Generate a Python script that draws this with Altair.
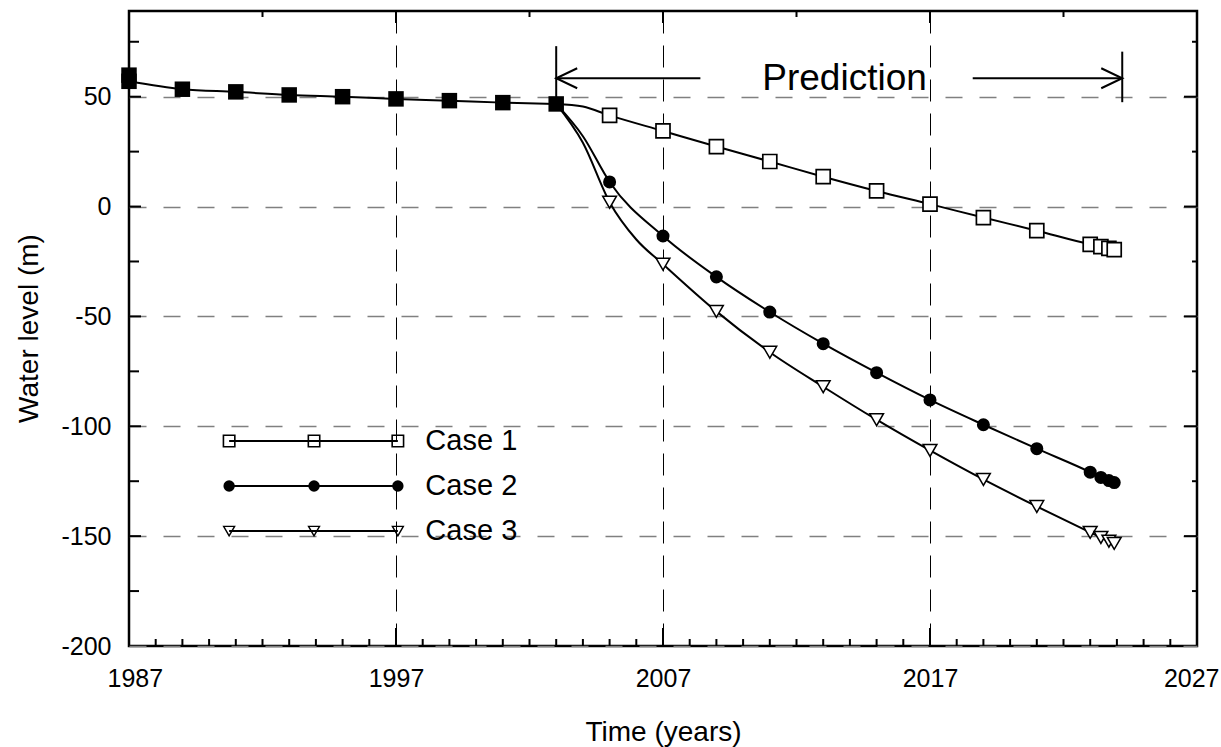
import altair as alt
import pandas as pd

FONT = "Liberation Sans"
X_DOMAIN = [1987, 2027]
Y_DOMAIN = [-200, 89]

# Measured water level before the prediction period (common to all cases)
hist_years = [1987, 1989, 1991, 1993, 1995, 1997, 1999, 2001, 2003]
hist_level = [57.0, 53.4, 52.2, 50.8, 50.0, 49.0, 48.2, 47.3, 46.7]
first_year_second_reading = 59.8

# Predicted water level, one series per case
case1_years = [2003, 2004, 2005, 2007, 2009, 2011, 2013, 2015, 2017, 2019, 2021, 2023, 2023.4, 2023.7, 2023.9]
case1_level = [46.7, 45.5, 41.5, 34.4, 27.3, 20.5, 13.6, 7.1, 1.1, -5.0, -11.0, -17.2, -18.2, -19.0, -19.6]

case2_years = [2003, 2004, 2005, 2007, 2009, 2011, 2013, 2015, 2017, 2019, 2021, 2023, 2023.4, 2023.7, 2023.9]
case2_level = [46.7, 32.0, 11.2, -13.4, -32.0, -48.0, -62.4, -75.6, -88.0, -99.3, -110.2, -120.9, -123.3, -124.7, -125.6]

case3_years = [2003, 2004, 2005, 2006, 2007, 2009, 2011, 2013, 2015, 2017, 2019, 2021, 2023, 2023.4, 2023.7, 2023.9]
case3_level = [46.7, 29.0, 2.0, -15.0, -26.2, -47.7, -66.3, -82.0, -97.0, -111.0, -124.2, -136.5, -148.3, -150.6, -152.3, -153.3]

marker_years = [2005, 2007, 2009, 2011, 2013, 2015, 2017, 2019, 2021, 2023, 2023.4, 2023.7, 2023.9]

cases = ["Case 1", "Case 2", "Case 3"]

# Legend placement inside the plot (data units)
legend_marker_years = [1990.75, 1993.93, 1997.07]
legend_row_levels = [-106.7, -127.2, -147.7]
legend_text_year = 1998.1

# Prediction bracket
prediction_start = 2003
prediction_end = 2024.2
bracket_left = [44.0, 73.0]
bracket_right = [47.5, 70.5]
arrow_level = 58.4
arrow_left_end = 2008.4
arrow_right_start = 2018.6
prediction_label_year = 2013.8
prediction_label_level = 53.0

# Axis values and inward ticks
x_label_years = [1987, 1997, 2007, 2017, 2027]
y_label_levels = [50, 0, -50, -100, -150, -200]
bottom_minor_years = list(range(1988, 2027))
bottom_major_years = [1997, 2007, 2017]
top_major_years = [1997, 2007, 2017]
top_minor_years = [1992, 2002, 2012, 2022]
side_major_levels = [50, 0, -50, -100, -150]
side_minor_levels = [75, 25, -25, -75, -125, -175]

W, H = 1068, 635

xs = alt.Scale(domain=X_DOMAIN, nice=False, zero=False)
ys = alt.Scale(domain=Y_DOMAIN, nice=False, zero=False)

x_axis = alt.Axis(
    title="Time (years)", values=x_label_years, format="d",
    labelFont=FONT, labelFontSize=25, labelColor="black", labelPadding=20,
    labelFlush=True, labelFlushOffset=22, labelOverlap=False,
    ticks=False, domain=False,
    grid=True, gridColor="black", gridDash=[22, 12], gridWidth=1, gridOpacity=1,
    titleFont=FONT, titleFontSize=28, titleFontWeight="normal", titleColor="black",
    titleY=94, titleBaseline="alphabetic",
)
y_axis = alt.Axis(
    title="Water level (m)", values=y_label_levels,
    labelExpr="'' + datum.value",
    labelFont=FONT, labelFontSize=25, labelColor="black", labelPadding=18,
    labelOverlap=False, labelFlush=False,
    ticks=False, domain=False,
    grid=True, gridColor="#808080", gridDash=[17, 17], gridWidth=1.5, gridOpacity=1,
    titleFont=FONT, titleFontSize=28, titleFontWeight="normal", titleColor="black",
    titleAngle=270, titleX=-92, titleY=317, titleAlign="center", titleBaseline="alphabetic",
)


def px(field="year"):
    return alt.X(f"{field}:Q", scale=xs, axis=x_axis)


def py(field="level"):
    return alt.Y(f"{field}:Q", scale=ys, axis=y_axis)


def series(years, levels, name):
    return pd.DataFrame({"year": years, "level": levels, "case": name})


hist_df = series(hist_years, hist_level, "Measured")
hist_marks = pd.concat([hist_df, series([1987], [first_year_second_reading], "Measured")])
c1 = series(case1_years, case1_level, "Case 1")
c2 = series(case2_years, case2_level, "Case 2")
c3 = series(case3_years, case3_level, "Case 3")

line_style = dict(color="black", strokeWidth=2, interpolate="monotone")

lines = [
    alt.Chart(df).mark_line(**line_style).encode(x=px(), y=py())
    for df in (hist_df, c1, c2, c3)
]


def markers(df):
    return df[df["year"].isin(marker_years)]


m1 = alt.Chart(markers(c1)).mark_point(
    shape="square", size=196, filled=True, fill="white", stroke="black", strokeWidth=1.7, opacity=1
).encode(x=px(), y=py())
m2 = alt.Chart(markers(c2)).mark_point(
    shape="circle", size=170, filled=True, color="black", opacity=1
).encode(x=px(), y=py())
m3 = alt.Chart(markers(c3)).mark_point(
    shape="triangle-down", size=190, filled=True, fill="white", stroke="black", strokeWidth=1.5, opacity=1
).encode(x=px(), y=py())
mh = alt.Chart(hist_marks).mark_point(
    shape="square", size=240, filled=True, color="black", opacity=1
).encode(x=px(), y=py())

# Inward axis ticks on all four sides
tick_style = dict(color="black", strokeWidth=2)
ticks_bottom_minor = alt.Chart(pd.DataFrame({"year": bottom_minor_years})).mark_rule(**tick_style).encode(
    x=px(), y=alt.value(H), y2=alt.value(H - 7))
ticks_bottom_major = alt.Chart(pd.DataFrame({"year": bottom_major_years})).mark_rule(**tick_style).encode(
    x=px(), y=alt.value(H), y2=alt.value(H - 18))
ticks_top_major = alt.Chart(pd.DataFrame({"year": top_major_years})).mark_rule(**tick_style).encode(
    x=px(), y=alt.value(0), y2=alt.value(12))
ticks_top_minor = alt.Chart(pd.DataFrame({"year": top_minor_years})).mark_rule(**tick_style).encode(
    x=px(), y=alt.value(0), y2=alt.value(6))
ticks_left_major = alt.Chart(pd.DataFrame({"level": side_major_levels})).mark_rule(**tick_style).encode(
    y=py(), x=alt.value(0), x2=alt.value(12))
ticks_left_minor = alt.Chart(pd.DataFrame({"level": side_minor_levels})).mark_rule(**tick_style).encode(
    y=py(), x=alt.value(0), x2=alt.value(10))
ticks_right_major = alt.Chart(pd.DataFrame({"level": side_major_levels})).mark_rule(**tick_style).encode(
    y=py(), x=alt.value(W), x2=alt.value(W - 13))
ticks_right_minor = alt.Chart(pd.DataFrame({"level": side_minor_levels})).mark_rule(**tick_style).encode(
    y=py(), x=alt.value(W), x2=alt.value(W - 5))

# Prediction bracket with arrows and label
bars = pd.DataFrame({
    "year": [prediction_start, prediction_end],
    "lo": [bracket_left[0], bracket_right[0]],
    "hi": [bracket_left[1], bracket_right[1]],
})
bracket = alt.Chart(bars).mark_rule(color="black", strokeWidth=2).encode(
    x=px(), y=py("lo"), y2="hi:Q")
shafts = pd.DataFrame({
    "year": [prediction_start, arrow_right_start],
    "x1": [arrow_left_end, prediction_end],
    "level": [arrow_level, arrow_level],
})
arrow_shafts = alt.Chart(shafts).mark_rule(color="black", strokeWidth=2).encode(
    x=px(), x2="x1:Q", y=py())
head_left = alt.Chart(pd.DataFrame({"year": [prediction_start], "level": [arrow_level]})).mark_point(
    shape="M2.1,-1L0,0L2.1,1", size=400, filled=False, color="black", strokeWidth=2, opacity=1
).encode(x=px(), y=py())
head_right = alt.Chart(pd.DataFrame({"year": [prediction_end], "level": [arrow_level]})).mark_point(
    shape="M-2.1,-1L0,0L-2.1,1", size=400, filled=False, color="black", strokeWidth=2, opacity=1
).encode(x=px(), y=py())
pred_label = alt.Chart(pd.DataFrame({
    "year": [prediction_label_year], "level": [prediction_label_level], "text": ["Prediction"]
})).mark_text(font=FONT, fontSize=37, color="black", align="center", baseline="alphabetic").encode(
    x=px(), y=py(), text="text:N")

# Legend: a short line with three markers per case, and its name
legend_line_df = pd.DataFrame({
    "year": [legend_marker_years[0]] * 3,
    "x1": [legend_marker_years[-1]] * 3,
    "level": legend_row_levels,
})
legend_pts = pd.DataFrame([
    {"case": c, "year": yr, "level": lv}
    for c, lv in zip(cases, legend_row_levels)
    for yr in legend_marker_years
])
legend_lines = alt.Chart(legend_line_df).mark_rule(color="black", strokeWidth=2).encode(
    x=px(), x2="x1:Q", y=py())
lg1 = alt.Chart(legend_pts[legend_pts.case == "Case 1"]).mark_point(
    shape="square", size=130, filled=False, color="black", strokeWidth=1.6, opacity=1
).encode(x=px(), y=py())
lg2 = alt.Chart(legend_pts[legend_pts.case == "Case 2"]).mark_point(
    shape="circle", size=130, filled=True, color="black", opacity=1
).encode(x=px(), y=py())
lg3 = alt.Chart(legend_pts[legend_pts.case == "Case 3"]).mark_point(
    shape="triangle-down", size=120, filled=False, color="black", strokeWidth=1.4, opacity=1
).encode(x=px(), y=py())
legend_text = alt.Chart(pd.DataFrame({
    "case": cases, "year": [legend_text_year] * 3, "level": legend_row_levels
})).mark_text(font=FONT, fontSize=29, color="black", align="left", baseline="middle").encode(
    x=px(), y=py(), text="case:N")

chart = alt.layer(
    *lines, m1, m2, m3, mh,
    ticks_bottom_minor, ticks_bottom_major, ticks_top_major, ticks_top_minor,
    ticks_left_major, ticks_left_minor, ticks_right_major, ticks_right_minor,
    bracket, arrow_shafts, head_left, head_right, pred_label,
    legend_lines, lg1, lg2, lg3, legend_text,
).properties(
    width=W, height=H,
    autosize=alt.AutoSizeParams(type="none"),
    padding={"left": 129, "top": 11, "right": 24, "bottom": 101},
    background="white",
).configure_view(stroke="black", strokeWidth=2.5)

chart.save("out.html", embed_options={"renderer": "svg", "actions": False})
